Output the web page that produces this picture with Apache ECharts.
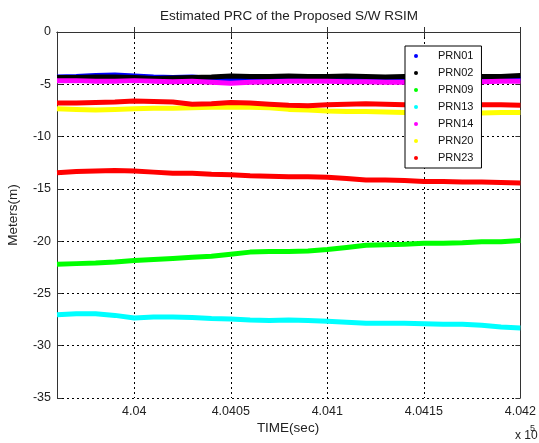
<!DOCTYPE html>
<html>
<head>
<meta charset="utf-8">
<script src="https://cdn.jsdelivr.net/npm/echarts@6/dist/echarts.min.js"></script>
<style>
  html, body { margin: 0; padding: 0; background: #fff; }
  #chart { width: 539px; height: 443px; }
</style>
</head>
<body>
<div id="chart"></div>
<script>
// time axis (sec), one sample every 10 s
const timeSec = [403960, 403970, 403980, 403990, 404000, 404010, 404020, 404030, 404040, 404050,
                 404060, 404070, 404080, 404090, 404100, 404110, 404120, 404130, 404140, 404150,
                 404160, 404170, 404180, 404190, 404200];
const xTicks = [404000, 404050, 404100, 404150, 404200];

// PRC per satellite (m)
const prn01 = [-4.30, -4.25, -4.15, -4.10, -4.20, -4.30, -4.35, -4.30, -4.45, -4.55, -4.50, -4.40, -4.40,
               -4.35, -4.30, -4.35, -4.40, -4.45, -4.45, -4.50, -4.50, -4.45, -4.50, -4.45, -4.45];
const prn02 = [-4.35, -4.35, -4.30, -4.30, -4.35, -4.45, -4.40, -4.35, -4.30, -4.20, -4.25, -4.25, -4.20,
               -4.25, -4.25, -4.20, -4.25, -4.30, -4.25, -4.25, -4.30, -4.30, -4.25, -4.25, -4.15];
const prn09 = [-22.20, -22.15, -22.10, -22.00, -21.85, -21.75, -21.65, -21.55, -21.45, -21.25, -21.05, -21.00, -21.00,
               -20.95, -20.80, -20.60, -20.40, -20.35, -20.30, -20.20, -20.20, -20.15, -20.05, -20.05, -19.95];
const prn13 = [-27.05, -26.95, -26.95, -27.10, -27.35, -27.25, -27.25, -27.30, -27.40, -27.45, -27.55, -27.60, -27.55,
               -27.60, -27.65, -27.75, -27.85, -27.85, -27.85, -27.90, -27.95, -27.95, -28.05, -28.20, -28.30];
const prn14 = [-4.65, -4.65, -4.70, -4.70, -4.65, -4.70, -4.75, -4.70, -4.80, -4.90, -4.80, -4.75, -4.70,
               -4.70, -4.70, -4.75, -4.75, -4.80, -4.80, -4.80, -4.75, -4.75, -4.75, -4.70, -4.70];
const prn20 = [-7.35, -7.40, -7.45, -7.40, -7.35, -7.30, -7.30, -7.25, -7.20, -7.20, -7.20, -7.25, -7.40,
               -7.45, -7.55, -7.60, -7.60, -7.65, -7.70, -7.70, -7.70, -7.70, -7.75, -7.70, -7.70];
const prn23 = [-6.80, -6.80, -6.75, -6.70, -6.60, -6.65, -6.70, -6.90, -6.85, -6.75, -6.80, -6.90, -7.00,
               -7.05, -6.95, -6.90, -6.85, -6.90, -6.95, -7.00, -7.00, -6.95, -6.95, -6.95, -7.00];
// 8th trace, same red, not in the legend
const extraRed = [-13.45, -13.35, -13.30, -13.25, -13.30, -13.40, -13.50, -13.50, -13.60, -13.65, -13.75, -13.80, -13.85,
                  -13.85, -13.90, -14.00, -14.15, -14.15, -14.20, -14.30, -14.30, -14.35, -14.35, -14.40, -14.45];

const legendNames = ['PRN01', 'PRN02', 'PRN09', 'PRN13', 'PRN14', 'PRN20', 'PRN23'];
const traces = [
    ['PRN01', prn01, '#0000ff'],
    ['PRN02', prn02, '#000000'],
    ['PRN09', prn09, '#00ff00'],
    ['PRN13', prn13, '#00ffff'],
    ['PRN14', prn14, '#ff00ff'],
    ['PRN20', prn20, '#ffff00'],
    ['PRN23', prn23, '#ff0000'],
    ['extra', extraRed, '#ff0000'],
];

const FONT = '"Liberation Sans", Arial, sans-serif';
const AXIS_COLOR = '#333';
const dashed = { show: true, lineStyle: { color: '#000', width: 1, type: [2, 3] } };

const chart = echarts.init(document.getElementById('chart'), null, { renderer: 'canvas' });

chart.setOption({
    animation: false,
    backgroundColor: '#fff',
    textStyle: { fontFamily: FONT },
    grid: { left: 57, right: 17, top: 32, bottom: 45 },
    xAxis: [{
        type: 'value', min: 403960, max: 404200, position: 'bottom',
        axisLine: { show: true, lineStyle: { color: AXIS_COLOR, width: 1 } },
        axisTick: { show: true, inside: true, length: 5, customValues: xTicks, lineStyle: { color: AXIS_COLOR } },
        axisLabel: {
            customValues: xTicks, margin: 7, fontSize: 12.5, color: '#222', fontFamily: FONT,
            formatter: v => String(parseFloat((v / 1e5).toFixed(5)))
        },
        splitLine: dashed
    }, {
        type: 'value', min: 403960, max: 404200, position: 'top',
        axisLine: { show: true, lineStyle: { color: AXIS_COLOR, width: 1 } },
        axisTick: { show: true, inside: true, length: 5, customValues: xTicks, lineStyle: { color: AXIS_COLOR } },
        axisLabel: { show: false },
        splitLine: { show: false }
    }],
    yAxis: [{
        type: 'value', min: -35, max: 0, interval: 5, position: 'left',
        axisLine: { show: true, lineStyle: { color: AXIS_COLOR, width: 1 } },
        axisTick: { show: true, inside: true, length: 5, lineStyle: { color: AXIS_COLOR } },
        axisLabel: { margin: 6, fontSize: 12.5, color: '#222', fontFamily: FONT },
        splitLine: dashed
    }, {
        type: 'value', min: -35, max: 0, interval: 5, position: 'right',
        axisLine: { show: true, lineStyle: { color: AXIS_COLOR, width: 1 } },
        axisTick: { show: true, inside: true, length: 5, lineStyle: { color: AXIS_COLOR } },
        axisLabel: { show: false },
        splitLine: { show: false }
    }],
    legend: {
        data: legendNames,
        orient: 'vertical',
        left: 405, top: 46,
        backgroundColor: '#fff',
        borderColor: '#000', borderWidth: 1, borderRadius: 0,
        padding: [3, 8, 3, 9],
        icon: 'circle',
        itemWidth: 34, itemHeight: 4, itemGap: 3,
        textStyle: { fontSize: 11, lineHeight: 14, color: '#111', fontFamily: FONT }
    },
    series: traces.map(([name, vals, color]) => ({
        name: name,
        type: 'line',
        xAxisIndex: 0, yAxisIndex: 0,
        data: timeSec.map((t, i) => [t, vals[i]]),
        showSymbol: false,
        color: color,
        lineStyle: { color: color, width: 5 },
        clip: true
    })),
    graphic: [
        { type: 'text', x: 289, y: 16, style: { text: 'Estimated PRC of the Proposed S/W RSIM', font: '13.5px ' + FONT, fill: '#222', align: 'center', verticalAlign: 'middle' } },
        { type: 'text', x: 13, y: 215, rotation: Math.PI / 2, style: { text: 'Meters(m)', font: '13.5px ' + FONT, fill: '#222', align: 'center', verticalAlign: 'middle' } },
        { type: 'text', x: 288, y: 428, style: { text: 'TIME(sec)', font: '13.5px ' + FONT, fill: '#222', align: 'center', verticalAlign: 'middle' } },
        { type: 'text', x: 515, y: 436, style: { text: 'x 10', font: '12px ' + FONT, fill: '#222', align: 'left', verticalAlign: 'middle' } },
        { type: 'text', x: 530, y: 429, style: { text: '5', font: '9px ' + FONT, fill: '#222', align: 'left', verticalAlign: 'middle' } }
    ]
});
</script>
</body>
</html>
